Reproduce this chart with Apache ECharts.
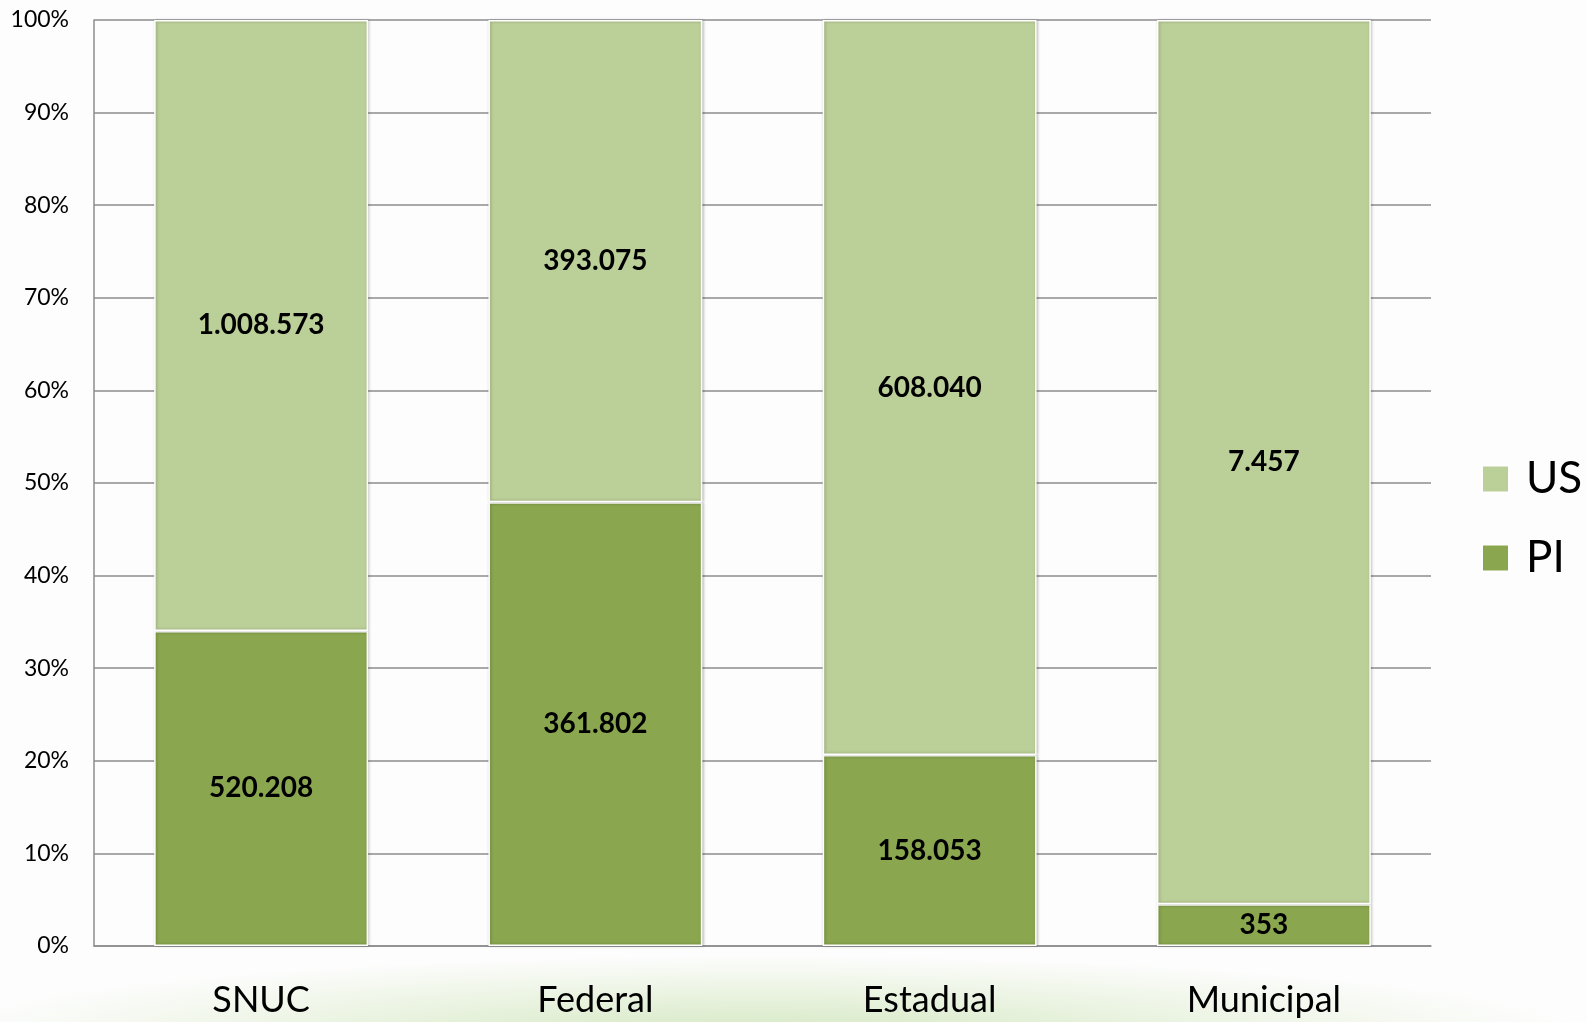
<!DOCTYPE html>
<html>
<head>
<meta charset="utf-8">
<title>SNUC PI / US</title>
<style>
  html, body { margin: 0; padding: 0; }
  body {
    width: 1587px; height: 1022px; overflow: hidden;
    background: #fdfdfd;
    background-image: radial-gradient(ellipse 820px 80px at 760px 1035px, rgba(185, 218, 155, 0.6), rgba(215, 233, 195, 0.3) 70%, rgba(253, 253, 253, 0) 100%);
  }
  #chart { width: 1587px; height: 1022px; }
</style>
<script src="https://cdn.jsdelivr.net/npm/echarts@6/dist/echarts.min.js"></script>
</head>
<body>
<div id="chart"></div>
<script>
const categories = ['SNUC', 'Federal', 'Estadual', 'Municipal']
const valuesPI = [520208, 361802, 158053, 353]
const valuesUS = [1008573, 393075, 608040, 7457]
const yTicks = [0, 10, 20, 30, 40, 50, 60, 70, 80, 90, 100]

const totals = categories.map((c, i) => valuesPI[i] + valuesUS[i])
const fmt = n => String(n).replace(/\B(?=(\d{3})+(?!\d))/g, '.')

function toSeries (raw) {
  return raw.map((v, i) => ({ value: v / totals[i] * 100, raw: v }))
}

const dom = echarts.init(document.getElementById('chart'))

const barCommon = {
  type: 'bar',
  stack: 'total',
  barWidth: '64%',
  label: {
    show: true,
    position: 'inside',
    fontFamily: 'Lato',
    fontWeight: 'bold',
    fontSize: 28,
    color: '#000',
    formatter: p => fmt(p.data.raw)
  }
}

const option = {
  animation: false,
  backgroundColor: 'transparent',
  textStyle: { fontFamily: 'Lato' },
  legend: {
    data: ['US', 'PI'],
    orient: 'vertical',
    left: 1476,
    top: 452,
    itemWidth: 27,
    itemHeight: 27,
    itemGap: 35,
    icon: 'rect',
    selectedMode: false,
    textStyle: {
      fontFamily: 'Lato',
      fontSize: 44,
      lineHeight: 44,
      color: '#000',
      padding: [0, 0, 0, 12]
    }
  },
  grid: {
    left: 94,
    right: 156,
    top: 20,
    bottom: 76
  },
  xAxis: {
    type: 'category',
    data: categories,
    axisLine: { show: true, lineStyle: { color: '#8c8c8c', width: 1.5 } },
    axisTick: { show: false },
    axisLabel: {
      margin: 36,
      fontFamily: 'Lato',
      fontSize: 36,
      color: '#000'
    }
  },
  yAxis: {
    type: 'value',
    min: 0,
    max: 100,
    interval: 10,
    axisLine: { show: true, lineStyle: { color: '#8c8c8c', width: 1.5 } },
    axisTick: { show: false },
    splitLine: { show: true, lineStyle: { color: '#8c8c8c', width: 1.5 } },
    axisLabel: {
      margin: 25,
      fontFamily: 'Lato',
      fontSize: 23,
      color: '#000',
      customValues: yTicks,
      formatter: '{value}%'
    }
  },
  series: [
    Object.assign({}, barCommon, {
      name: 'PI',
      itemStyle: {
        color: '#8aa64e',
        borderColor: '#ffffff',
        borderWidth: 1.5,
        shadowColor: 'rgba(0,0,0,0.25)',
        shadowBlur: 3,
        shadowOffsetX: 1
      },
      data: toSeries(valuesPI)
    }),
    Object.assign({}, barCommon, {
      name: 'US',
      itemStyle: {
        color: '#bbcf98',
        borderColor: '#ffffff',
        borderWidth: 1.5,
        shadowColor: 'rgba(0,0,0,0.25)',
        shadowBlur: 3,
        shadowOffsetX: 1
      },
      data: toSeries(valuesUS)
    })
  ]
}

dom.setOption(option)
window.addEventListener('resize', () => dom.resize())
</script>
</body>
</html>
